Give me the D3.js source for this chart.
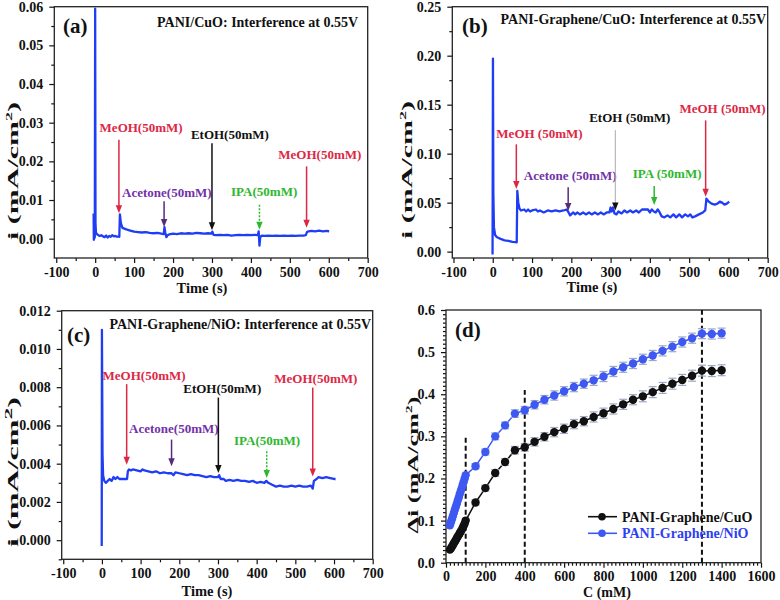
<!DOCTYPE html>
<html><head><meta charset="utf-8">
<script src="https://cdn.jsdelivr.net/npm/d3@7"></script>
<style>
body{margin:0;background:#fff}
text{font-family:"Liberation Serif","Times New Roman",serif;font-weight:bold;fill:#111}
</style>
</head><body>
<svg id="chart" width="780" height="600"></svg>
<script>
// ---------------- DATA ----------------
const timeTicks = [-100, 0, 100, 200, 300, 400, 500, 600, 700];

// Panel (a) PANI/CuO
const timeA = [-4,-3.5,-2,-1,0,0.8,2,4,8,12,16,20,24,28,32,36,40,44,48,52,56,60,62,63.5,66,70,75,80,90,100,110,120,130,140,150,160,170,176,178,180,183,186,190,200,210,220,230,240,250,260,270,280,290,298,301,304,310,320,330,340,350,360,370,380,390,400,410,418,420,422,424,428,435,445,455,465,475,485,495,505,515,525,535,541,544,548,555,565,575,585,595,601];
const currentA = [0.0065,-0.0003,0.0004,0.0003,0.0595,0.004,0.0016,0.0012,0.0009,0.0007,0.0009,0.0006,0.0004,0.0008,0.0003,0.0007,0.0005,0.0009,0.0006,0.0007,0.0005,0.0006,0.0005,0.0063,0.0040,0.0028,0.0026,0.0024,0.0021,0.0018,0.0017,0.0016,0.0017,0.0015,0.0014,0.0015,0.0013,0.0012,0.0030,0.0016,0.0004,0.0009,0.0011,0.0013,0.0012,0.0014,0.0013,0.0014,0.0013,0.0015,0.0014,0.0013,0.0014,0.0013,0.0018,0.0010,0.0009,0.0010,0.0009,0.0010,0.0008,0.0009,0.0010,0.0009,0.0010,0.0009,0.0010,0.0009,0.0019,-0.0018,0.0004,0.0008,0.0007,0.0008,0.0007,0.0008,0.0007,0.0008,0.0007,0.0008,0.0007,0.0008,0.0008,0.0009,0.0017,0.0019,0.0020,0.0019,0.0021,0.0019,0.0020,0.0019];
const ticksA = [0.00, 0.01, 0.02, 0.03, 0.04, 0.05, 0.06];
const arrowLabelsA = ["MeOH(50mM)","Acetone(50mM)","EtOH(50mM)","IPA(50mM)","MeOH(50mM)"];
const arrowTimeA = [61, 177, 300, 422, 543];
const arrowTopA = [0.0256, 0.0097, 0.0247, 0.0088, 0.0187];
const arrowTipA = [0.0066, 0.0030, 0.0022, 0.0023, 0.0028];
const labelTimeA = [118, 184, 346, 434, 577];
const labelValA = [0.0277, 0.0109, 0.0257, 0.0110, 0.0205];

// Panel (b) PANI-Graphene/CuO
const timeB = [-0.5,0.5,1.5,3,6,10,15,20,30,40,50,58,61,62.5,65,68,72,80,85,90,95,100,110,115,120,130,140,150,160,170,180,188,193,197,205,210,215,222,230,237,245,252,260,268,275,283,290,297,300,303,306,310,315,320,328,335,342,350,357,365,372,380,388,395,400,405,410,415,420,425,430,437,445,452,460,467,475,482,490,497,503,508,515,525,535,541,544,550,557,565,572,578,584,590,596,602];
const currentB = [-0.003,0.197,0.060,0.025,0.017,0.015,0.014,0.013,0.0115,0.011,0.010,0.0098,0.0095,0.062,0.050,0.044,0.042,0.043,0.041,0.043,0.041,0.042,0.043,0.041,0.042,0.040,0.042,0.041,0.042,0.041,0.042,0.043,0.040,0.037,0.040,0.038,0.040,0.038,0.040,0.038,0.040,0.038,0.040,0.038,0.040,0.038,0.040,0.040,0.045,0.041,0.045,0.039,0.038,0.041,0.039,0.042,0.040,0.042,0.040,0.042,0.040,0.043,0.043,0.043,0.040,0.043,0.041,0.040,0.043,0.040,0.036,0.035,0.037,0.035,0.038,0.035,0.038,0.035,0.038,0.036,0.038,0.035,0.036,0.038,0.040,0.042,0.054,0.051,0.049,0.048,0.049,0.051,0.050,0.048,0.049,0.051];
const ticksB = [0.00, 0.05, 0.10, 0.15, 0.20, 0.25];
const arrowLabelsB = ["MeOH (50mM)","Acetone (50mM)","EtOH (50mM)","IPA (50mM)","MeOH (50mM)"];
const arrowTimeB = [60, 192, 312, 411, 542];
const arrowTopB = [0.1095, 0.0656, 0.124, 0.067, 0.134];
const arrowTipB = [0.064, 0.0415, 0.042, 0.0476, 0.056];
const labelTimeB = [119, 197, 349, 444, 585];
const labelValB = [0.1163, 0.0731, 0.1326, 0.0749, 0.1416];

// Panel (c) PANI-Graphene/NiO
const timeC = [-0.5,0,1.5,3,6,10,15,20,25,30,35,40,45,50,55,60,65,67,70,75,80,90,100,105,110,120,130,140,150,160,170,180,185,190,200,210,220,230,240,250,260,270,280,290,300,303,307,315,320,330,340,350,360,370,380,390,400,410,420,425,430,440,450,460,470,480,490,500,510,520,530,540,545,548,555,560,570,580,590,600,604];
const currentC = [-0.0003,0.011,0.0045,0.0034,0.0031,0.0030,0.0031,0.0032,0.0031,0.0033,0.0032,0.0033,0.0032,0.0032,0.0032,0.0032,0.0032,0.0036,0.0037,0.00365,0.0037,0.00365,0.0036,0.0037,0.00365,0.0036,0.00355,0.0036,0.0035,0.00355,0.0035,0.0035,0.0034,0.00355,0.0035,0.00345,0.0034,0.00345,0.0034,0.0034,0.00335,0.0033,0.00335,0.0033,0.0033,0.0034,0.0032,0.0032,0.0031,0.00315,0.0031,0.00315,0.0031,0.0031,0.00305,0.0031,0.0030,0.00305,0.0030,0.0031,0.0030,0.0029,0.0028,0.00285,0.0028,0.0028,0.00285,0.0028,0.00285,0.0028,0.0028,0.00285,0.0027,0.0031,0.0032,0.0033,0.00325,0.0033,0.00325,0.0032,0.0032];
const ticksC = [0.000, 0.002, 0.004, 0.006, 0.008, 0.010, 0.012];
const arrowLabelsC = ["MeOH(50mM)","Acetone(50mM)","EtOH(50mM)","IPA(50mM)","MeOH(50mM)"];
const arrowTimeC = [64, 180, 301, 426, 545];
const arrowTopC = [0.00816, 0.00526, 0.00746, 0.00465, 0.00798];
const arrowTipC = [0.00395, 0.00386, 0.00351, 0.00325, 0.00333];
const labelTimeC = [109, 186, 311, 427, 553];
const labelValC = [0.00838, 0.00559, 0.00768, 0.00498, 0.0082];

// Panel (d) calibration
const concD = [20,25,30,35,40,45,50,55,60,65,70,75,80,85,90,95,100,150,200,250,300,350,400,450,500,550,600,650,700,750,800,850,900,950,1000,1050,1100,1150,1200,1250,1300,1350,1400];
const deltaCuO = [0.031,0.034,0.038,0.042,0.046,0.050,0.054,0.058,0.062,0.066,0.070,0.074,0.078,0.083,0.088,0.093,0.100,0.143,0.177,0.213,0.239,0.267,0.274,0.287,0.299,0.310,0.318,0.329,0.336,0.346,0.355,0.365,0.376,0.387,0.395,0.405,0.415,0.425,0.434,0.444,0.456,0.455,0.457];
const deltaNiO = [0.089,0.096,0.103,0.111,0.118,0.126,0.133,0.140,0.148,0.155,0.163,0.170,0.177,0.185,0.192,0.200,0.208,0.229,0.263,0.300,0.326,0.354,0.362,0.375,0.387,0.397,0.407,0.417,0.425,0.433,0.442,0.454,0.464,0.473,0.483,0.492,0.503,0.513,0.524,0.533,0.544,0.543,0.545];
const errCuO = [0.003,0.003,0.003,0.003,0.003,0.003,0.003,0.003,0.003,0.003,0.003,0.003,0.003,0.003,0.003,0.003,0.004,0.006,0.007,0.008,0.008,0.009,0.009,0.010,0.010,0.011,0.011,0.011,0.011,0.012,0.012,0.012,0.012,0.012,0.013,0.013,0.013,0.013,0.013,0.013,0.013,0.013,0.013];
const errNiO = [0.003,0.003,0.003,0.003,0.003,0.003,0.003,0.003,0.003,0.003,0.003,0.003,0.003,0.003,0.003,0.003,0.004,0.006,0.007,0.008,0.008,0.009,0.009,0.010,0.010,0.011,0.011,0.011,0.011,0.012,0.012,0.012,0.012,0.012,0.012,0.012,0.012,0.012,0.012,0.012,0.012,0.012,0.012];
const dashConc = [100, 400, 1300];
const dashTop = [0.30, 0.41, 0.60];
const concTicks = [0, 200, 400, 600, 800, 1000, 1200, 1400, 1600];
const ticksD = [0.0, 0.1, 0.2, 0.3, 0.4, 0.5, 0.6];
const seriesNames = ["PANI-Graphene/CuO", "PANI-Graphene/NiO"];

// ---------------- DRAWING ----------------
const svg = d3.select("#chart");
const RED = "#dc2846", PURPLE = "#7232a8", GREEN = "#2eb82e", BLACK = "#111", LINEBLUE = "#1f3df5";

function axes(g, x, y, xt, xMinor, yt, yMinor, yFmt, xPad) {
  const [x0, x1] = x.range(), [y1, y0] = y.range();
  const bx = d3.axisBottom(x).tickValues(xt).tickSize(5).tickPadding(xPad).tickFormat(d => String(d));
  const bxm = d3.axisBottom(x).tickValues(xMinor).tickSize(3).tickFormat("");
  const ly = d3.axisLeft(y).tickValues(yt).tickSize(5).tickPadding(6).tickFormat(yFmt);
  const lym = d3.axisLeft(y).tickValues(yMinor).tickSize(3).tickFormat("");
  [[bx, `translate(0,${y1})`], [bxm, `translate(0,${y1})`], [ly, `translate(${x0},0)`], [lym, `translate(${x0},0)`]].forEach(([ax, tr]) => {
    const a = g.append("g").attr("transform", tr).call(ax);
    a.select(".domain").remove();
    a.selectAll("line").attr("stroke", "#111").attr("stroke-width", 1.2);
    a.selectAll("text").style("font-size", "14px").style("font-family", '"Liberation Serif","Times New Roman",serif').style("font-weight", "bold").attr("fill", "#111");
  });
  g.append("rect").attr("x", x0).attr("y", y0).attr("width", x1 - x0).attr("height", y1 - y0)
    .attr("fill", "none").attr("stroke", "#222").attr("stroke-width", 1.3);
}

function yLabel(g, cx, cy, len, prefix, supSize) {
  const t = g.append("text").attr("text-anchor", "middle").attr("dy", "0.35em").style("font-size", "15px");
  t.append("tspan").text(prefix + " (mA/cm");
  t.append("tspan").text("2").style("font-size", supSize + "px").attr("dy", -6);
  t.append("tspan").text(")").attr("dy", 6);
  const w = t.node().getComputedTextLength();
  t.attr("transform", `translate(${cx},${cy}) rotate(-90) scale(${len / w},1)`);
}

function timePanel(o) {
  const g = svg.append("g");
  const x = d3.scaleLinear().domain(o.xd).range([o.box[0], o.box[1]]);
  const y = d3.scaleLinear().domain(o.yd).range([o.box[3], o.box[2]]);
  axes(g, x, y, timeTicks, d3.range(-50, 700, 100), o.yt, o.yMinor, d3.format(o.fmt), 4);
  const id = "clip" + o.tag;
  svg.append("clipPath").attr("id", id).append("rect")
    .attr("x", o.box[0]).attr("y", o.box[2]).attr("width", o.box[1] - o.box[0]).attr("height", o.box[3] - o.box[2]);
  g.append("path").datum(d3.zip(o.t, o.v)).attr("clip-path", `url(#${id})`)
    .attr("d", d3.line().x(d => x(d[0])).y(d => y(d[1])))
    .attr("fill", "none").attr("stroke", LINEBLUE).attr("stroke-width", 2.3).attr("stroke-linejoin", "round");
  // arrows
  o.labels.forEach((lab, i) => {
    const st = o.styles[i];
    const ax = x(o.at[i]), top = y(o.atop[i]), tip = y(o.atip[i]);
    g.append("line").attr("x1", ax).attr("x2", ax).attr("y1", top).attr("y2", tip - 6)
      .attr("stroke", st.line).attr("stroke-width", st.w || 1.5).attr("stroke-dasharray", st.dash || null);
    g.append("path").attr("d", `M${ax - 3.2},${tip - 8}L${ax + 3.2},${tip - 8}L${ax},${tip}Z`).attr("fill", st.head || st.line);
    g.append("text").attr("x", x(o.lt[i])).attr("y", y(o.lv[i])).attr("text-anchor", "middle")
      .style("font-size", "13px").style("fill", st.text).text(lab);
  });
  // title, tag, axis labels
  g.append("text").attr("x", o.titleX).attr("y", o.titleY).attr("text-anchor", "end").style("font-size", "14px").text(o.title);
  g.append("text").attr("x", o.tagX).attr("y", o.tagY).style("font-size", "21px").text(`(${o.tag})`);
  g.append("text").attr("x", o.xlX).attr("y", o.xlY).attr("text-anchor", "middle").style("font-size", "14.5px").text("Time (s)");
  yLabel(g, o.ylX, o.ylY, o.ylLen, "i", o.sup);
}

const arrowStyles = (ipaDash, etohThin) => [
  {line: RED, text: RED},
  {line: "#5a2a7a", text: PURPLE},
  etohThin ? {line: "#aaa", head: BLACK, text: BLACK, w: 1} : {line: BLACK, text: BLACK},
  {line: GREEN, text: GREEN, dash: ipaDash ? "2,1.5" : null},
  {line: RED, text: RED}
];

timePanel({tag: "a", box: [54.3, 367.7, 6.7, 258], xd: [-105, 700], yd: [-0.005, 0.06],
  t: timeA, v: currentA, yt: ticksA, yMinor: d3.range(0.005, 0.06, 0.01), fmt: ".2f",
  labels: arrowLabelsA, at: arrowTimeA, atop: arrowTopA, atip: arrowTipA, lt: labelTimeA, lv: labelValA,
  styles: arrowStyles(true, false),
  title: "PANI/CuO: Interference at 0.55V", titleX: 358, titleY: 27, tagX: 63, tagY: 33,
  xlX: 202, xlY: 293, ylX: 13, ylY: 171, ylLen: 138, sup: 9});

timePanel({tag: "b", box: [452.3, 767.7, 6.7, 258], xd: [-103, 700], yd: [-0.0065, 0.25],
  t: timeB, v: currentB, yt: ticksB, yMinor: d3.range(0.025, 0.25, 0.05), fmt: ".2f",
  labels: arrowLabelsB, at: arrowTimeB, atop: arrowTopB, atip: arrowTipB, lt: labelTimeB, lv: labelValB,
  styles: arrowStyles(false, true),
  title: "PANI-Graphene/CuO: Interference at 0.55V", titleX: 766, titleY: 23.5, tagX: 462, tagY: 33,
  xlX: 592, xlY: 292, ylX: 407, ylY: 170, ylLen: 138, sup: 9});

timePanel({tag: "c", box: [61.7, 372.7, 310.7, 559.3], xd: [-104, 700], yd: [-0.001, 0.012],
  t: timeC, v: currentC, yt: ticksC, yMinor: d3.range(-0.001, 0.012, 0.002), fmt: ".3f",
  labels: arrowLabelsC, at: arrowTimeC, atop: arrowTopC, atip: arrowTipC, lt: labelTimeC, lv: labelValC,
  styles: arrowStyles(true, false),
  title: "PANI-Graphene/NiO: Interference at 0.55V", titleX: 371, titleY: 328.5, tagX: 67, tagY: 341.5,
  xlX: 207, xlY: 596, ylX: 13, ylY: 472, ylLen: 150, sup: 11});

// Panel (d)
(function () {
  const g = svg.append("g");
  const box = [446, 761, 310, 562.7];
  const x = d3.scaleLinear().domain([0, 1600]).range([box[0], box[1]]);
  const y = d3.scaleLinear().domain([0, 0.6]).range([box[3], box[2]]);
  const xMinor = d3.range(20, 1600, 20).filter(v => v % 200 !== 0);
  const yMinor = d3.range(1, 60).filter(v => v % 10 !== 0).map(v => v / 100);
  axes(g, x, y, concTicks, xMinor, ticksD, yMinor, d3.format(".1f"), 3);
  dashConc.forEach((c, i) => {
    g.append("line").attr("x1", x(c)).attr("x2", x(c)).attr("y1", y(0)).attr("y2", y(dashTop[i]))
      .attr("stroke", "#111").attr("stroke-width", 2).attr("stroke-dasharray", "5,3");
  });
  const series = [
    {v: deltaCuO, e: errCuO, color: "#111"},
    {v: deltaNiO, e: errNiO, color: "#3d59f2"}
  ];
  series.forEach(s => {
    const pts = concD.map((c, i) => ({c, v: s.v[i], e: s.e[i]}));
    g.append("path").datum(pts).attr("d", d3.line().x(d => x(d.c)).y(d => y(d.v)))
      .attr("fill", "none").attr("stroke", s.color).attr("stroke-width", 1.5);
    const eb = g.append("g").attr("stroke", "#9ea8c6").attr("stroke-width", 1.2);
    pts.forEach(d => {
      if (d.c <= 100) return;
      eb.append("line").attr("x1", x(d.c)).attr("x2", x(d.c)).attr("y1", y(d.v - d.e)).attr("y2", y(d.v + d.e));
      [d.v - d.e, d.v + d.e].forEach(vv => eb.append("line").attr("x1", x(d.c) - 4).attr("x2", x(d.c) + 4).attr("y1", y(vv)).attr("y2", y(vv)));
    });
    g.append("g").selectAll("circle").data(pts).join("circle")
      .attr("cx", d => x(d.c)).attr("cy", d => y(d.v)).attr("r", 4.2).attr("fill", s.color);
  });
  // legend
  seriesNames.forEach((n, i) => {
    const ly = 516.7 + i * 16.6;
    const col = series[i].color;
    g.append("line").attr("x1", 588).attr("x2", 617).attr("y1", ly).attr("y2", ly).attr("stroke", col).attr("stroke-width", 1.6);
    g.append("circle").attr("cx", 602).attr("cy", ly).attr("r", 3.8).attr("fill", col);
    g.append("text").attr("x", 622).attr("y", ly + 5).style("font-size", "14px").style("fill", i ? "#2d3ff0" : "#111").text(n);
  });
  g.append("text").attr("x", 455).attr("y", 337).style("font-size", "21px").text("(d)");
  g.append("text").attr("x", 607).attr("y", 597).attr("text-anchor", "middle").style("font-size", "14px").text("C (mM)");
  yLabel(g, 413, 465, 137, "\u0394i", 9);
})();
</script>
</body></html>
